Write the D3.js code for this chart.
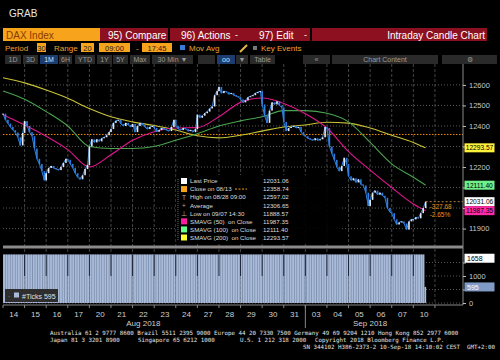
<!DOCTYPE html>
<html>
<head>
<meta charset="utf-8">
<script src="https://cdn.jsdelivr.net/npm/d3@7"></script>
<style>
  body { margin: 0; background: #000; }
  svg { display: block; font-family: "Liberation Sans", Arial, sans-serif; }
</style>
</head>
<body>
<svg id="chart" width="500" height="360"></svg>
<script>
// trading days on the x axis
const days = ["14","15","16","17","20","21","22","23","24","27","28","29","30","31","03","04","05","06","07","10"];
const monthLabels = [["Aug 2018", 6.5], ["Sep 2018", 17]];
const monthBreaks = [14];

// hourly closes per day (09:00 ... 17:00), last day stops at 14:00
const sessionHours = [9, 10, 11, 12, 13, 14, 15, 16, 17];
const hourlyClose = [
  [12460, 12430, 12412, 12395, 12380, 12368, 12345, 12305, 12366],
  [12424, 12400, 12370, 12350, 12290, 12240, 12215, 12180, 12135],
  [12170, 12195, 12205, 12195, 12190, 12185, 12200, 12220, 12240],
  [12235, 12215, 12195, 12170, 12150, 12140, 12160, 12190, 12210],
  [12300, 12335, 12320, 12335, 12325, 12340, 12345, 12355, 12370],
  [12385, 12415, 12425, 12430, 12410, 12400, 12415, 12405, 12395],
  [12410, 12370, 12400, 12415, 12405, 12395, 12385, 12395, 12400],
  [12390, 12372, 12380, 12390, 12385, 12380, 12375, 12395, 12430],
  [12400, 12385, 12380, 12390, 12385, 12375, 12380, 12370, 12385],
  [12455, 12440, 12450, 12462, 12470, 12485, 12495, 12550, 12570],
  [12590, 12560, 12570, 12565, 12555, 12560, 12550, 12545, 12540],
  [12530, 12515, 12525, 12540, 12545, 12550, 12560, 12565, 12570],
  [12505, 12450, 12415, 12475, 12515, 12505, 12520, 12500, 12490],
  [12420, 12375, 12390, 12395, 12400, 12390, 12395, 12370, 12355],
  [12350, 12340, 12335, 12330, 12340, 12330, 12335, 12345, 12395],
  [12390, 12300, 12265, 12235, 12200, 12180, 12205, 12245, 12215],
  [12155, 12135, 12145, 12125, 12140, 12115, 12110, 12075, 12010],
  [12040, 12075, 12085, 12065, 12075, 12060, 12050, 12000, 11980],
  [11975, 11945, 11920, 11930, 11935, 11925, 11895, 11935, 11945],
  [11945, 11955, 11950, 11975, 12000, 12031.06]
];

// moving averages, read at each day start (last point = 10 Sep 14:00)
const smaDays = [0, 1, 2, 3, 4, 5, 6, 7, 8, 9, 10, 11, 12, 13, 14, 15, 16, 17, 18, 19, 19.57];
const sma50  = [12455, 12405, 12350, 12285, 12200, 12260, 12330, 12372, 12390, 12392, 12445, 12515, 12536, 12510, 12460, 12390, 12275, 12185, 12100, 12020, 11987.35];
const sma100 = [12570, 12530, 12470, 12400, 12300, 12290, 12290, 12300, 12330, 12362, 12400, 12425, 12445, 12475, 12475, 12462, 12420, 12320, 12215, 12150, 12111.40];
const sma200 = [12635, 12610, 12575, 12535, 12485, 12445, 12420, 12402, 12380, 12352, 12342, 12355, 12375, 12395, 12405, 12418, 12414, 12390, 12355, 12320, 12293.57];

const closeOn0813 = 12358.74;
const lastPrice = 12031.06;
const priceTicks = [11900, 12000, 12100, 12200, 12300, 12400, 12500, 12600];

// tick counts per 30 min bar, roughly flat each day
const dayTicks = [1800, 1800, 1800, 1800, 1800, 1800, 1800, 1800, 1800, 1800, 1800, 1800, 1800, 1800, 1800, 1800, 1800, 1800, 1800, 1800];
const lastBarTicks = 595;
const volHighLabel = 1658;
const volTicks = [0, 500, 1000, 1500];

const legendLabels = ["Last Price", "Close on 08/13", "High on 08/28 09:00", "Average", "Low on 09/07 14:30",
  "SMAVG (50)  on Close", "SMAVG (100)  on Close", "SMAVG (200)  on Close"];
const legendValues = ["12031.06", "12358.74", "12597.02", "12306.65", "11888.57", "11987.35", "12111.40", "12293.57"];

const ORANGE = "#f7a31c", RED = "#8d1020";
const C50 = "#e0168f", C100 = "#49a34f", C200 = "#c9c236";

const svg = d3.select("#chart");
const plot = {left: 3, right: 463, top: 64, bottom: 245};
const vol = {top: 249, bottom: 303};

const x = d3.scaleLinear().domain([0, 21.3]).range([plot.left, plot.right]);
const y = d3.scaleLinear().domain([11820, 12702]).range([plot.bottom, plot.top]);
const yv = d3.scaleLinear().domain([0, 2000]).range([vol.bottom, vol.top]);
const t = (day, hour) => day + (hour - 9) / 8.75;

function box(x0, y0, w, h, fill) {
  return svg.append("rect").attr("x", x0).attr("y", y0).attr("width", w).attr("height", h).attr("fill", fill);
}
function label(x0, y0, s, size, fill, anchor) {
  return svg.append("text").attr("x", x0).attr("y", y0).attr("font-size", size)
    .attr("fill", fill).attr("text-anchor", anchor || "start").text(s);
}

/* HEADER */
label(9, 17, "GRAB", 10, "#e6e6e6");
box(3, 28, 97, 13, ORANGE); label(6, 38.5, "DAX Index", 10, "#8a3b00");
box(100, 28, 68, 13, RED); label(108, 38.5, "95) Compare", 10, "#fff");
box(170, 28, 80, 13, RED); label(181, 38.5, "96) Actions", 10, "#fff"); label(235, 38, "-", 9, "#fff");
box(250, 28, 60, 13, RED); label(259, 38.5, "97) Edit", 10, "#fff"); label(304, 38, "-", 9, "#fff");
box(312, 28, 175, 13, RED); label(485, 38.5, "Intraday Candle Chart", 10, "#fff", "end");

label(5, 51, "Period", 8, "#f0a032");
box(37, 43, 9, 9, ORANGE); label(41.5, 50.5, "30", 7.5, "#222", "middle");
label(54, 51, "Range", 8, "#f0a032");
box(81, 43, 13, 9, ORANGE); label(87.5, 50.5, "20", 7.5, "#222", "middle");
box(99, 43, 31, 9, ORANGE); label(114.5, 50.5, "09:00", 7.5, "#222", "middle");
label(136, 51, "-", 8, "#f0a032");
box(142, 43, 30, 9, ORANGE); label(157, 50.5, "17:45", 7.5, "#222", "middle");
box(180, 45, 5, 5, "#3a7bd5");
label(189, 51, "Mov Avg", 8, "#f0a032");
svg.append("line").attr("x1", 240).attr("y1", 52).attr("x2", 247).attr("y2", 45)
  .attr("stroke", "#e8b840").attr("stroke-width", 2);
box(253, 46, 4, 4, "#777");
label(261, 51, "Key Events", 8, "#f0a032");

const tabs = [["1D", 5, 21], ["3D", 23, 38], ["1M", 40, 58], ["6H", 59, 72], ["YTD", 75, 95], ["1Y", 97, 112],
  ["5Y", 113, 128], ["Max", 130, 150], ["30 Min \u25BC", 152, 193], ["", 198, 215], ["oo", 217, 235], ["\u25BC", 236, 248],
  ["Table", 250, 275], ["\u00AB", 303, 330], ["Chart Content", 332, 438], ["\u2699", 442, 497]];
tabs.forEach(([s, a, b]) => {
  const on = s === "1M" || s === "oo";
  box(a, 55, b - a, 9, on ? "#1c3d6e" : "#2a2a2a");
  label((a + b) / 2, 62, s, 7, on ? "#cfe0ff" : "#9a9a9a", "middle");
});

/* PRICE PANEL GRID */
const grid = svg.append("g");
grid.selectAll(".hg").data(priceTicks).join("line")
  .attr("x1", plot.left).attr("x2", plot.right).attr("y1", d => y(d)).attr("y2", d => y(d))
  .attr("stroke", "#5a5a5a").attr("stroke-dasharray", "1,2");
grid.selectAll(".vg").data(d3.range(1, days.length + 1)).join("line")
  .attr("x1", d => x(d)).attr("x2", d => x(d)).attr("y1", plot.top).attr("y2", vol.bottom)
  .attr("stroke", "#444").attr("stroke-dasharray", "3,2");

// close on 08/13 reference line
svg.append("line").attr("x1", plot.left).attr("x2", plot.right)
  .attr("y1", y(closeOn0813)).attr("y2", y(closeOn0813))
  .attr("stroke", "#f28c00").attr("stroke-dasharray", "1.5,1.5");

/* MOVING AVERAGES */
const smaLine = d3.line().x((d, i) => x(smaDays[i])).y(d => y(d)).curve(d3.curveMonotoneX);
[[sma200, C200], [sma100, C100], [sma50, C50]].forEach(([s, c]) => {
  svg.append("path").attr("d", smaLine(s)).attr("fill", "none").attr("stroke", c).attr("stroke-width", 1.1);
});

/* PRICE */
const pts = [];
hourlyClose.forEach((vals, i) => vals.forEach((v, k) => pts.push({t: t(i, sessionHours[k]), v})));
pts.forEach((p, i) => { p.o = i ? pts[i - 1].v : p.v; });

svg.append("path").attr("d", d3.line().x(d => x(d.t)).y(d => y(d.v))(pts))
  .attr("fill", "none").attr("stroke", "#2f7fe0").attr("stroke-width", 1);
svg.selectAll(".candle").data(pts).join("rect")
  .attr("x", d => x(d.t) - 0.8).attr("width", 1.6)
  .attr("y", d => y(Math.max(d.o, d.v)))
  .attr("height", d => Math.max(1, Math.abs(y(d.o) - y(d.v))))
  .attr("fill", d => d.v >= d.o ? "#e4e8f0" : "#2f7fe0");

const last = pts[pts.length - 1];
svg.append("line").attr("x1", x(last.t)).attr("x2", plot.right).attr("y1", y(lastPrice)).attr("y2", y(lastPrice))
  .attr("stroke", "#b08040").attr("stroke-dasharray", "2,2");
label(x(last.t) + 4, y(lastPrice) + 7, (lastPrice - closeOn0813).toFixed(2), 6.5, "#e8901a");
label(x(last.t) + 4, y(lastPrice) + 15, ((lastPrice / closeOn0813 - 1) * 100).toFixed(2) + "%", 6.5, "#e8901a");

/* LEGEND */
box(176, 175, 165, 69, "#000").attr("opacity", 0.9);
svg.append("line").attr("x1", 178).attr("x2", 178).attr("y1", 179).attr("y2", 240)
  .attr("stroke", "#666").attr("stroke-dasharray", "1,1");
const rowY = d3.scaleLinear().domain([0, 7]).range([181, 237.5]);
const icons = ["#ffffff", ORANGE, "T", "+", "\u22A5", "#ff1fa0", "#66ff88", "#ffff33"];
legendLabels.forEach((s, i) => {
  const yy = rowY(i);
  const ic = icons[i];
  if (ic.startsWith("#")) box(181, yy - 3, 6, 6, ic);
  else label(184, yy + 2.5, ic, 6.5, "#aaa", "middle");
  label(190, yy + 2.3, s, 6.2, "#dddddd").attr("xml:space", "preserve");
  label(263, yy + 2.3, legendValues[i], 6.2, "#dddddd");
});
svg.append("line").attr("x1", 235).attr("x2", 247).attr("y1", rowY(1)).attr("y2", rowY(1))
  .attr("stroke", ORANGE).attr("stroke-dasharray", "2,1.5");

/* PRICE AXIS */
const valueBoxes = [[sma200[sma200.length - 1], "#fff23a", "#000"], [sma100[sma100.length - 1], "#6ff08a", "#000"],
  [lastPrice, "#ffffff", "#000"], [sma50[sma50.length - 1], "#ff2aa8", "#000"]];
const volBoxes = [[volHighLabel, "#ffffff", "#000"], [lastBarTicks, "#7f9bc6", "#fff"]];
// tick labels that sit under a value box are hidden, as in the terminal
const covered = (py, boxes) => boxes.some(b => Math.abs(b - py) < 8);
const priceBoxY = valueBoxes.map(b => y(b[0]));
const volBoxY = volBoxes.map(b => yv(b[0]));

svg.append("g").attr("transform", `translate(${plot.right},0)`)
  .call(d3.axisRight(y).tickValues(priceTicks).tickSize(3).tickFormat(d3.format("d")))
  .call(g => g.select(".domain").attr("stroke", "#888").attr("d", `M0,${plot.top}V${vol.bottom + 2}`))
  .call(g => g.selectAll("line").attr("stroke", "#bbb"))
  .call(g => g.selectAll("text").attr("fill", "#c8c8c8").attr("font-size", 7.5).attr("x", 6)
    .attr("font-family", "Liberation Sans, Arial, sans-serif")
    .filter(d => covered(y(d), priceBoxY)).remove());

valueBoxes.forEach(([v, bg, fg]) => {
  box(464.5, y(v) - 4.5, 30, 9, bg);
  label(479.5, y(v) + 2.4, v.toFixed(2), 6.6, fg, "middle");
});

/* SEPARATOR */
box(plot.left, 245.5, plot.right - plot.left, 3, "#8a8a8a");

/* VOLUME */
const defs = svg.append("defs");
const pat = defs.append("pattern").attr("id", "stripes").attr("patternUnits", "userSpaceOnUse")
  .attr("width", 2.47).attr("height", 10);
pat.append("rect").attr("width", 2.47).attr("height", 10).attr("fill", "#a9bbd8");
pat.append("rect").attr("width", 0.6).attr("height", 10).attr("fill", "#6d809f");

svg.selectAll(".vh").data(volTicks).join("line")
  .attr("x1", plot.left).attr("x2", plot.right).attr("y1", d => yv(d)).attr("y2", d => yv(d))
  .attr("stroke", "#555").attr("stroke-dasharray", "1,2");

svg.selectAll(".vbar").data(dayTicks).join("rect")
  .attr("x", (d, i) => x(i))
  .attr("width", (d, i) => (i === dayTicks.length - 1 ? x(t(i, 13.5)) : x(i + 1)) - x(i))
  .attr("y", d => yv(d)).attr("height", d => yv(0) - yv(d))
  .attr("fill", "url(#stripes)");
box(x(t(19, 13.5)), yv(lastBarTicks), x(t(19, 14)) - x(t(19, 13.5)) + 0.5, yv(0) - yv(lastBarTicks), "#a9bbd8");
svg.selectAll(".vsep").data(d3.range(1, days.length)).join("line")
  .attr("x1", d => x(d)).attr("x2", d => x(d)).attr("y1", yv(1800)).attr("y2", yv(1000))
  .attr("stroke", "#1c2433").attr("stroke-width", 1);

svg.append("g").attr("transform", `translate(${plot.right},0)`)
  .call(d3.axisRight(yv).tickValues(volTicks).tickSize(3).tickFormat(d3.format("d")))
  .call(g => g.select(".domain").remove())
  .call(g => g.selectAll("line").attr("stroke", "#bbb"))
  .call(g => g.selectAll("text").attr("fill", "#c8c8c8").attr("font-size", 7.5).attr("x", 6)
    .attr("font-family", "Liberation Sans, Arial, sans-serif")
    .filter(d => covered(yv(d), volBoxY)).remove());
volBoxes.forEach(([v, bg, fg]) => {
  box(464.5, yv(v) - 4.5, 30, 9, bg);
  label(467, yv(v) + 2.6, v, 7, fg);
});

box(5, 289, 53, 13, "#2e2e2e");
box(14, 292.5, 5, 5, "#a9bbd8");
label(22, 298.5, "#Ticks " + lastBarTicks, 7, "#e0e0e0");
label(8, 298, "-", 6, "#888");

/* X AXIS */
svg.append("line").attr("x1", plot.left).attr("x2", plot.right).attr("y1", 305).attr("y2", 305).attr("stroke", "#888");
svg.selectAll(".xt").data(d3.range(0, days.length + 1)).join("line")
  .attr("x1", d => x(d)).attr("x2", d => x(d)).attr("y1", 305).attr("y2", 308).attr("stroke", "#888");
svg.selectAll(".xl").data(days).join("text")
  .attr("x", (d, i) => x(i + 0.5)).attr("y", 316.5).attr("text-anchor", "middle")
  .attr("font-size", 8).attr("fill", "#cfcfcf").text(d => d);
monthLabels.forEach(([s, d]) => label(x(d), 326, s, 8, "#cfcfcf", "middle"));
monthBreaks.forEach(d => svg.append("line").attr("x1", x(d)).attr("x2", x(d)).attr("y1", 305).attr("y2", 328)
  .attr("stroke", "#888"));

/* FOOTER */
const foot = (x0, y0, s, anchor) => label(x0, y0, s, 5.8, "#e4e4e4", anchor)
  .attr("font-family", "DejaVu Sans Mono, monospace").attr("xml:space", "preserve");
foot(50, 335, "Australia 61 2 9777 8600 Brazil 5511 2395 9000 Europe 44 20 7330 7500 Germany 49 69 9204 1210 Hong Kong 852 2977 6000");
foot(50, 342, "Japan 81 3 3201 8900");
foot(138, 342, "Singapore 65 6212 1000");
foot(240, 342, "U.S. 1 212 318 2000");
foot(315, 342, "Copyright 2018 Bloomberg Finance L.P.");
foot(495, 349, "SN 344102 H386-2373-2 10-Sep-18 14:10:02 CEST  GMT+2:00", "end");
</script>
</body>
</html>
